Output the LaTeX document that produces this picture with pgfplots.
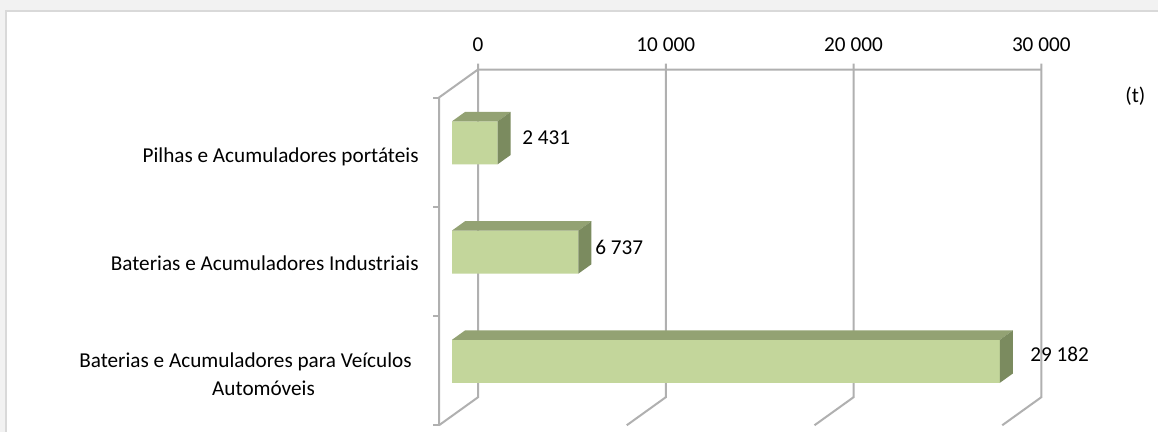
\documentclass[border=0pt]{standalone}
\usepackage{fontspec}
\setmainfont{Carlito}
\usepackage{pgfplots}
\pgfplotsset{compat=1.18}
\definecolor{barfront}{HTML}{C3D69B}
\definecolor{bartop}{HTML}{93A273}
\definecolor{barside}{HTML}{7B8B5F}
\definecolor{gridc}{HTML}{B0B0B0}
\definecolor{outerbg}{HTML}{F2F2F2}
\definecolor{framec}{HTML}{D9D9D9}
\begin{document}
\begin{tikzpicture}[lbl/.style={font=\fontsize{10.6}{14}\selectfont, inner sep=0pt, text=black}]
\begin{axis}[scale only axis, width=579pt, height=216pt, hide axis,
  xmin=-24074.6, xmax=37603.2, ymin=-0.3071, ymax=3.6471, y dir=reverse]
% background
\fill[outerbg] (axis cs:-30000,-1) rectangle (axis cs:40000,4);
\fill[white] (axis cs:-23755,-0.2064) rectangle (axis cs:40000,4);
\draw[framec, line width=1pt] (axis cs:-23755,4) -- (axis cs:-23755,-0.2064) -- (axis cs:40000,-0.2064);
% walls and gridlines
\draw[gridc, line width=1pt] (axis cs:1384.8,0.2742) -- (axis cs:1384.8,3.3291) -- (axis cs:-692.4,3.5854);
\draw[gridc, line width=1pt] (axis cs:11384.8,0.2742) -- (axis cs:11384.8,3.3291) -- (axis cs:9307.6,3.5854);
\draw[gridc, line width=1pt] (axis cs:21384.8,0.2742) -- (axis cs:21384.8,3.3291) -- (axis cs:19307.6,3.5854);
\draw[gridc, line width=1pt] (axis cs:31384.8,0.2742) -- (axis cs:31384.8,3.3291) -- (axis cs:29307.6,3.5854);
\draw[gridc, line width=1pt] (axis cs:31384.8,0.3291) -- (axis cs:1384.8,0.3291) -- (axis cs:-692.4,0.5854) -- (axis cs:-692.4,3.5854);
\draw[gridc, line width=1pt] (axis cs:-1012,0.5854) -- (axis cs:-692.4,0.5854);
\draw[gridc, line width=1pt] (axis cs:-1012,1.5854) -- (axis cs:-692.4,1.5854);
\draw[gridc, line width=1pt] (axis cs:-1012,2.5854) -- (axis cs:-692.4,2.5854);
\draw[gridc, line width=1pt] (axis cs:-1012,3.5854) -- (axis cs:-692.4,3.5854);
% bars: front faces
\addplot[xbar, bar width=0.3936, fill=barfront, draw=none] coordinates {(2431,1) (6737,2) (29182,3)};
% top faces
\addplot[fill=bartop, draw=none] coordinates {(0,0.8032) (2431,0.8032) (3123.4,0.7178) (692.4,0.7178) (0,0.8032)};
\addplot[fill=bartop, draw=none] coordinates {(0,1.8032) (6737,1.8032) (7429.4,1.7178) (692.4,1.7178) (0,1.8032)};
\addplot[fill=bartop, draw=none] coordinates {(0,2.8032) (29182,2.8032) (29874.4,2.7178) (692.4,2.7178) (0,2.8032)};
% side faces
\addplot[fill=barside, draw=none] coordinates {(2431,0.8032) (3123.4,0.7178) (3123.4,1.1114) (2431,1.1968) (2431,0.8032)};
\addplot[fill=barside, draw=none] coordinates {(6737,1.8032) (7429.4,1.7178) (7429.4,2.1114) (6737,2.1968) (6737,1.8032)};
\addplot[fill=barside, draw=none] coordinates {(29182,2.8032) (29874.4,2.7178) (29874.4,3.1114) (29182,3.1968) (29182,2.8032)};
% tick labels (top)
\node[lbl, anchor=base] at (axis cs:1384.8,0.1602) {0};
\node[lbl, anchor=base] at (axis cs:11384.8,0.1602) {10 000};
\node[lbl, anchor=base] at (axis cs:21384.8,0.1602) {20 000};
\node[lbl, anchor=base] at (axis cs:31384.8,0.1602) {30 000};
\node[lbl, anchor=base west] at (axis cs:35846,0.6311) {(t)};
% value labels
\node[lbl, anchor=base west] at (axis cs:3728,1.0201) {2 431};
\node[lbl, anchor=base west] at (axis cs:7616,2.0270) {6 737};
\node[lbl, anchor=base west] at (axis cs:30785,3.0037) {29 182};
% category labels
\node[lbl, anchor=base east] at (axis cs:-1758,1.1762) {Pilhas e Acumuladores portáteis};
\node[lbl, anchor=base east] at (axis cs:-1758,2.1648) {Baterias e Acumuladores Industriais};
\node[lbl, anchor=base east] at (axis cs:-2130,3.055) {Baterias e Acumuladores para Veículos};
\node[lbl, anchor=base] at (axis cs:-10040,3.3085) {Automóveis};
\end{axis}
\pgfresetboundingbox
\path[use as bounding box] (current axis.south west) rectangle (current axis.north east);
\end{tikzpicture}
\end{document}
